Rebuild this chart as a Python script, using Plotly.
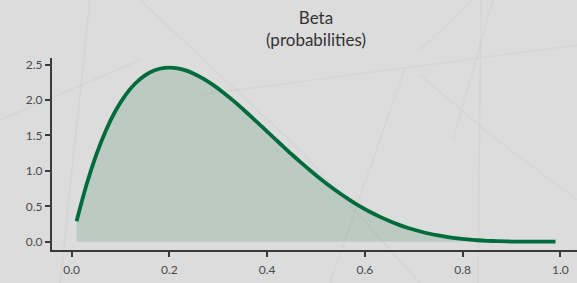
import plotly.graph_objects as go

# Data (density values)
x_vals = [0.01, 0.03, 0.05, 0.07, 0.09, 0.11, 0.13, 0.15, 0.17, 0.19,
          0.21, 0.23, 0.25, 0.27, 0.29, 0.31, 0.33, 0.35, 0.37, 0.39,
          0.41, 0.43, 0.45, 0.47, 0.49, 0.51, 0.53, 0.55, 0.57, 0.59,
          0.61, 0.63, 0.65, 0.67, 0.69, 0.71, 0.73, 0.75, 0.77, 0.79,
          0.81, 0.83, 0.85, 0.87, 0.89, 0.91, 0.93, 0.95, 0.97, 0.99]
density = [0.288, 0.797, 1.222, 1.571, 1.852, 2.071, 2.234, 2.349, 2.420, 2.454,
           2.454, 2.426, 2.373, 2.300, 2.211, 2.108, 1.995, 1.874, 1.749, 1.620,
           1.491, 1.362, 1.235, 1.113, 0.995, 0.882, 0.776, 0.677, 0.585, 0.500,
           0.423, 0.354, 0.293, 0.238, 0.191, 0.151, 0.116, 0.088, 0.065, 0.046,
           0.032, 0.021, 0.013, 0.0075, 0.0039, 0.0018, 0.0007, 0.0002, 0.0, 0.0]
x_ticks = [0.0, 0.2, 0.4, 0.6, 0.8, 1.0]
x_tick_labels = ["0.0", "0.2", "0.4", "0.6", "0.8", "1.0"]
y_ticks = [0.0, 0.5, 1.0, 1.5, 2.0, 2.5]
y_tick_labels = ["0.0", "0.5", "1.0", "1.5", "2.0", "2.5"]
title_text = "Beta<br>(probabilities)"

GREEN = "#006b3c"
BG = "#dcdcdc"
FONT = "Lato"

fig = go.Figure()
fig.add_trace(go.Scatter(
    x=x_vals, y=density, mode="lines",
    line=dict(color=GREEN, width=3.8, shape="spline"),
    fill="tozeroy", fillcolor="rgba(0,107,60,0.15)",
    hoverinfo="skip", showlegend=False,
))

# faint decorative background lines (paper coords)
W, H = 577, 283
L, R, T, B = 52, 0, 58, 33
pw, ph = W - L - R, H - T - B
def px(xp):
    return (xp - L) / pw
def py(yp):
    return (H - B - yp) / ph
bg_lines = [
    (140, 0, 300, 150), (481, 0, 478, 283), (473, 0, 420, 50),
    (420, 75, 497, 140), (493, 0, 453, 140), (200, 95, 577, 45),
    (0, 120, 140, 60), (405, 68, 330, 283), (90, 0, 60, 283),
    (300, 150, 420, 283), (497, 140, 577, 200),
]
shapes = []
for (x0, y0, x1, y1) in bg_lines:
    shapes.append(dict(type="line", xref="paper", yref="paper",
                       x0=px(x0), y0=py(y0), x1=px(x1), y1=py(y1),
                       line=dict(color="rgba(0,0,0,0.025)", width=2),
                       layer="below"))

axis_common = dict(
    showgrid=False, zeroline=False, showline=True, linecolor="#3a3a3a",
    linewidth=2, ticks="outside", ticklen=5, tickwidth=1.5, tickcolor="#3a3a3a",
    tickfont=dict(family=FONT, size=12, color="#4a4a4a"),
)

fig.update_layout(
    width=W, height=H,
    margin=dict(l=L, r=R, t=T, b=B),
    paper_bgcolor=BG, plot_bgcolor=BG,
    shapes=shapes,
    title=dict(text=title_text, x=(316 / W), xanchor="center",
               y=1 - 24 / H, yanchor="top",
               font=dict(family=FONT, size=17, color="#333333")),
    xaxis=dict(range=[-0.0403, 1.034], tickvals=x_ticks, ticktext=x_tick_labels,
               ticklabelstandoff=3, **axis_common),
    yaxis=dict(range=[-0.117, 2.594], tickvals=y_ticks, ticktext=y_tick_labels,
               **axis_common),
)

fig.write_html("out.html", config={"displayModeBar": False},
               post_script="document.body.style.margin='0';document.body.style.overflow='hidden';")
